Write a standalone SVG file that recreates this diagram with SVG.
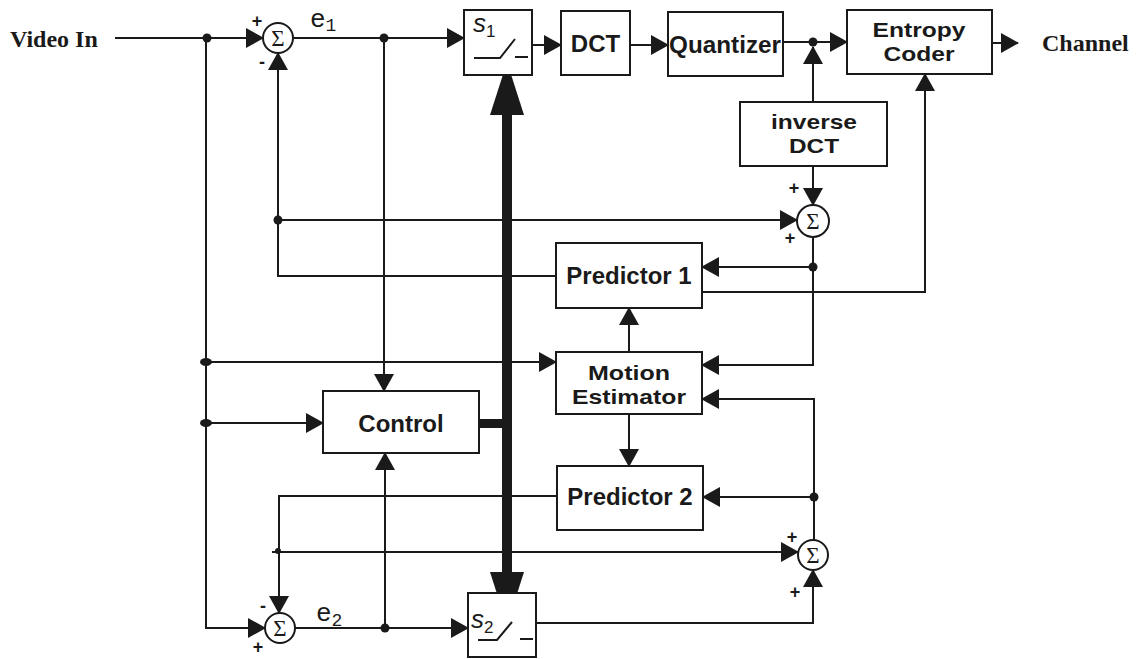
<svg xmlns="http://www.w3.org/2000/svg" width="1142" height="659" viewBox="0 0 1142 659">
<style>
.box{fill:#fff;stroke:#1a1a1a;stroke-width:2}
.ln{fill:none;stroke:#1a1a1a;stroke-width:2}
.arr{marker-end:url(#ah)}
.lbl{font-family:"Liberation Sans",Arial,sans-serif;font-weight:bold;font-size:24px;fill:#1a1a1a;text-anchor:middle}
.lbl2{font-family:"Liberation Sans",Arial,sans-serif;font-weight:bold;font-size:21px;fill:#1a1a1a;text-anchor:middle}
.io{font-family:"Liberation Serif","Times New Roman",serif;font-weight:bold;font-size:24px;fill:#1a1a1a}
.sig{font-family:"Liberation Serif","Times New Roman",serif;font-size:23px;fill:#1a1a1a;text-anchor:middle}
.pm{font-family:"Liberation Sans",Arial,sans-serif;font-weight:bold;font-size:18px;fill:#1a1a1a;text-anchor:middle}
.ev{font-family:"Liberation Mono","Courier New",monospace;font-size:26px;fill:#1a1a1a}
.sw{font-family:"Liberation Sans",Arial,sans-serif;font-style:italic;font-size:26px;fill:#1a1a1a}
.dot{fill:#1a1a1a}
</style>
<defs>
<marker id="ah" markerUnits="userSpaceOnUse" markerWidth="20" markerHeight="22" refX="17" refY="10" orient="auto">
<path d="M0,0 L18,10 L0,20 z" fill="#1a1a1a"/>
</marker>
</defs>

<g id="connectors">
<path class="ln arr" d="M115,38 H263"/>
<path class="ln arr" d="M293,38 H464"/>
<path class="ln arr" d="M532,45 H561"/>
<path class="ln arr" d="M630,45 H668"/>
<path class="ln arr" d="M783,42 H847"/>
<path class="ln arr" d="M992,43 H1018"/>
<path class="ln arr" d="M813,102 V47"/>
<path class="ln arr" d="M813,166 V205"/>
<path class="ln arr" d="M813,237 V365 H702"/>
<path class="ln arr" d="M813,267 H702"/>
<path class="ln arr" d="M702,292 H925 V74"/>
<path class="ln arr" d="M556,276 H278 V53"/>
<path class="ln arr" d="M278,220 H797"/>
<path class="ln arr" d="M629,352 V308"/>
<path class="ln arr" d="M629,414 V466"/>
<path class="ln arr" d="M814,540 V399 H702"/>
<path class="ln arr" d="M814,497 H703"/>
<path class="ln arr" d="M557,496 H279 V613"/>
<path class="ln arr" d="M272,552 H798"/>
<path class="ln arr" d="M536,623 H813 V570"/>
<path class="ln arr" d="M206,38 V628 H265"/>
<path class="ln arr" d="M206,362 H556"/>
<path class="ln arr" d="M206,423 H323"/>
<path class="ln arr" d="M384,38 V391"/>
<path class="ln arr" d="M295,628 H468"/>
<path class="ln arr" d="M385,628 V453"/>
<rect x="479" y="419" width="28" height="9" fill="#1a1a1a"/>
<rect x="502" y="112" width="10" height="463" fill="#1a1a1a"/>
<polygon points="507,62 490,115 524,115" fill="#1a1a1a"/>
<polygon points="507,625 490,572 524,572" fill="#1a1a1a"/>
<circle class="dot" cx="207" cy="38" r="4.5"/>
<circle class="dot" cx="384" cy="38" r="4.5"/>
<circle class="dot" cx="813" cy="42" r="4.5"/>
<circle class="dot" cx="278" cy="220" r="4.5"/>
<circle class="dot" cx="813" cy="267" r="4.5"/>
<ellipse class="dot" cx="206" cy="362" rx="6" ry="4"/>
<ellipse class="dot" cx="206" cy="423" rx="6" ry="4"/>
<circle class="dot" cx="814" cy="497" r="4.5"/>
<circle class="dot" cx="278" cy="551" r="3"/>
<circle class="dot" cx="385" cy="628" r="4.5"/>
<text class="ev" x="310" y="27">e<tspan font-size="18" dy="4">1</tspan></text>
<text class="ev" x="316" y="621">e<tspan font-size="18" dy="5">2</tspan></text>
</g>

<g id="video-in"><text class="io" x="10" y="47">Video In</text></g>
<g id="channel"><text class="io" x="1042" y="51">Channel</text></g>

<g id="sum1">
<circle class="box" cx="278" cy="38" r="15"/>
<text class="sig" x="278" y="46">Σ</text>
<text class="pm" x="257" y="27">+</text>
<text class="pm" x="262" y="68">-</text>
</g>

<g id="switch1">
<rect class="box" x="464" y="10" width="68" height="65"/>
<text class="sw" x="473" y="32">s<tspan font-size="17" dy="5" font-style="normal">1</tspan></text>
<path class="ln" d="M474,58 H500 L515,39 M515,57 H528"/>
</g>

<g id="dct">
<rect class="box" x="561" y="11" width="69" height="64"/>
<text class="lbl" x="595.5" y="52">DCT</text>
</g>

<g id="quantizer">
<rect class="box" x="668" y="12" width="115" height="64"/>
<text class="lbl" x="725" y="53" textLength="112" lengthAdjust="spacingAndGlyphs">Quantizer</text>
</g>

<g id="entropy-coder">
<rect class="box" x="847" y="10" width="145" height="64"/>
<text class="lbl2" x="919" y="37" textLength="93" lengthAdjust="spacingAndGlyphs">Entropy</text>
<text class="lbl2" x="919" y="61" textLength="71" lengthAdjust="spacingAndGlyphs">Coder</text>
</g>

<g id="inverse-dct">
<rect class="box" x="740" y="102" width="147" height="64"/>
<text class="lbl2" x="814" y="129" textLength="86" lengthAdjust="spacingAndGlyphs">inverse</text>
<text class="lbl2" x="814" y="153" textLength="50" lengthAdjust="spacingAndGlyphs">DCT</text>
</g>

<g id="sum3">
<circle class="box" cx="813" cy="221" r="16"/>
<text class="sig" x="813" y="229">Σ</text>
<text class="pm" x="794" y="194">+</text>
<text class="pm" x="790" y="244">+</text>
</g>

<g id="predictor1">
<rect class="box" x="556" y="243" width="146" height="65"/>
<text class="lbl" x="629" y="284">Predictor 1</text>
</g>

<g id="motion-estimator">
<rect class="box" x="556" y="352" width="146" height="62"/>
<text class="lbl2" x="629" y="380" textLength="82" lengthAdjust="spacingAndGlyphs">Motion</text>
<text class="lbl2" x="629" y="404" textLength="114" lengthAdjust="spacingAndGlyphs">Estimator</text>
</g>

<g id="control">
<rect class="box" x="323" y="391" width="156" height="62"/>
<text class="lbl" x="401" y="432">Control</text>
</g>

<g id="predictor2">
<rect class="box" x="557" y="466" width="146" height="64"/>
<text class="lbl" x="630" y="505">Predictor 2</text>
</g>

<g id="sum4">
<circle class="box" cx="813" cy="555" r="15"/>
<text class="sig" x="813" y="563">Σ</text>
<text class="pm" x="792" y="543">+</text>
<text class="pm" x="795" y="598">+</text>
</g>

<g id="sum2">
<circle class="box" cx="280" cy="628" r="15"/>
<text class="sig" x="280" y="636">Σ</text>
<text class="pm" x="263" y="612">-</text>
<text class="pm" x="258" y="653">+</text>
</g>

<g id="switch2">
<rect class="box" x="468" y="593" width="68" height="64"/>
<text class="sw" x="471" y="628">s<tspan font-size="17" dy="5" font-style="normal">2</tspan></text>
<path class="ln" d="M478,640 H497 L512,622 M520,639 H533"/>
</g>
</svg>
